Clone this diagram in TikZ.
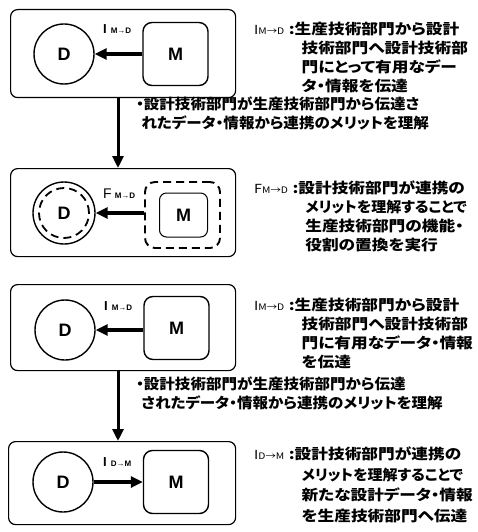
\documentclass[tikz,border=0pt]{standalone}
\usepackage{fontspec}
\setmainfont{Liberation Sans}
\newfontfamily\jp[RawFeature=+palt]{Noto Sans CJK JP}
\usetikzlibrary{arrows.meta}
\newcommand{\jtext}[1]{\scalebox{1.15}[1]{\jp\bfseries\fontsize{14.5}{19}\selectfont #1}}
\newcommand{\jtextw}[1]{\scalebox{1.15}[1]{\jp\bfseries\fontsize{14.5}{20.5}\selectfont #1}}
\newcommand{\btext}[1]{\scalebox{1.07}[1]{\jp\bfseries\fontsize{14.5}{19}\selectfont #1}}
\newcommand{\sq}[1]{\scalebox{0.9}[1]{#1}}
\newcommand{\ind}{\hspace{6pt}}
\newcommand{\keyI}[2]{{\fontsize{12.5}{12}\selectfont\mdseries #1}{\fontsize{9}{9}\selectfont\mdseries #2}\hspace{4pt}{\jp :}\hspace{1pt}}
\begin{document}
\begin{tikzpicture}[x=1pt,y=-1pt,
  frame/.style={draw,line width=1.2pt,rounded corners=7pt},
  dnode/.style={draw,circle,line width=1.4pt,minimum size=60pt,inner sep=0pt,font=\bfseries\fontsize{18}{18}\selectfont},
  mnode/.style={draw,rounded corners=9pt,line width=1.4pt,minimum width=65pt,minimum height=63pt,inner sep=0pt,font=\bfseries\fontsize{18}{18}\selectfont},
  flow/.style={line width=3.2pt,-{Triangle[length=12pt,width=11pt]}},
  down/.style={line width=3pt,-{Triangle[length=12pt,width=11pt]}},
  lab/.style={inner sep=0pt,anchor=base west,font=\bfseries},
  desc/.style={inner sep=0pt,anchor=north west},
  bullet/.style={inner sep=0pt,anchor=north west},
  dash9/.style={dash pattern=on 8pt off 5pt}
]
\useasboundingbox (0,0) rectangle (477,532);

% ---------- Box 1 ----------
\node[frame,minimum width=225pt,minimum height=88pt,anchor=north west] (b1) at (10,9) {};
\node[dnode] (d1) at (64,54) {D};
\node[mnode] (m1) at (175.5,54) {M};
\draw[flow] (m1) -- (d1);
\node[lab] (l1) at (103,34) {{\fontsize{13}{13}\selectfont I}\hspace{4pt}{\fontsize{8}{8}\selectfont M→D}};
\node[desc] (t1) at (254,21) {\jtext{\begin{tabular}{@{}r@{}l@{}}\keyI{I}{M→D}&生産技術部門から設計\\&\ind 技術部門へ設計技術部\\&\ind 門にとって有用なデー\\&\ind タ・情報を伝達\end{tabular}}};

% ---------- arrow 1 text ----------
\node[bullet] (s1) at (136,96) {\btext{\begin{tabular}{@{}l@{}}・設計技術部門が生産技術部門から伝達さ\\\hspace{5pt}れたデータ・情報から連携のメリットを理解\end{tabular}}};

% ---------- Box 2 ----------
\node[frame,minimum width=225pt,minimum height=88pt,anchor=north west] (b2) at (10,168) {};
\node[dnode,minimum size=62pt] (d2) at (64,213) {};
\node[draw,circle,dash9,line width=1.8pt,minimum size=50pt,inner sep=0pt,font=\bfseries\fontsize{18}{18}\selectfont] (d2i) at (64,213) {D};
\node[draw,rounded corners=10pt,dash9,line width=1.9pt,minimum width=75pt,minimum height=66pt,inner sep=0pt] (m2o) at (182.5,215) {};
\node[mnode,line width=1pt,minimum width=48pt,minimum height=44pt,rounded corners=7pt] (m2) at (183.5,215) {M};
\draw[flow] (m2o.west |- d2) -- (d2);
\node[lab] (l2) at (103,198) {{\fontsize{14}{14}\selectfont\mdseries F}\hspace{3pt}{\fontsize{8}{8}\selectfont M→D}};
\node[desc] (t2) at (254,180) {\jtext{\begin{tabular}{@{}r@{}l@{}}\keyI{F}{M→D}&設計技術部門が連携の\\&\ind\sq{メリットを理解することで}\\&\ind 生産技術部門の機能・\\&\ind 役割の置換を実行\end{tabular}}};

\draw[down] (b1.south -| 118,0) -- (b2.north -| 118,0);

% ---------- Box 3 ----------
\node[frame,minimum width=225pt,minimum height=86pt,anchor=north west] (b3) at (10,284) {};
\node[dnode] (d3) at (65,330) {D};
\node[mnode] (m3) at (176.5,328) {M};
\draw[flow] (m3.west |- d3) -- (d3);
\node[lab] (l3) at (104,310) {{\fontsize{13}{13}\selectfont I}\hspace{4pt}{\fontsize{8}{8}\selectfont M→D}};
\node[desc] (t3) at (254,297) {\jtext{\begin{tabular}{@{}r@{}l@{}}\keyI{I}{M→D}&生産技術部門から設計\\&\ind 技術部門へ設計技術部\\&\ind 門に有用なデータ・情報\\&\ind を伝達\end{tabular}}};

\node[bullet] (s2) at (136,376) {\btext{\begin{tabular}{@{}l@{}}・設計技術部門が生産技術部門から伝達\\\hspace{5pt}されたデータ・情報から連携のメリットを理解\end{tabular}}};

% ---------- Box 4 ----------
\node[frame,minimum width=227pt,minimum height=83pt,anchor=north west] (b4) at (8,441) {};
\node[dnode] (d4) at (63,482) {D};
\node[mnode] (m4) at (176,482) {M};
\draw[flow] (d4) -- (m4);
\node[lab] (l4) at (103,466) {{\fontsize{13}{13}\selectfont I}\hspace{4pt}{\fontsize{8}{8}\selectfont D→M}};
\node[desc] (t4) at (254,445) {\jtextw{\begin{tabular}{@{}r@{}l@{}}\keyI{I}{D→M}&設計技術部門が連携の\\&\ind\sq{メリットを理解することで}\\&\ind 新たな設計データ・情報\\&\ind を生産技術部門へ伝達\end{tabular}}};

\draw[down] (b3.south -| 118,0) -- (b4.north -| 118,0);
\end{tikzpicture}
\end{document}
